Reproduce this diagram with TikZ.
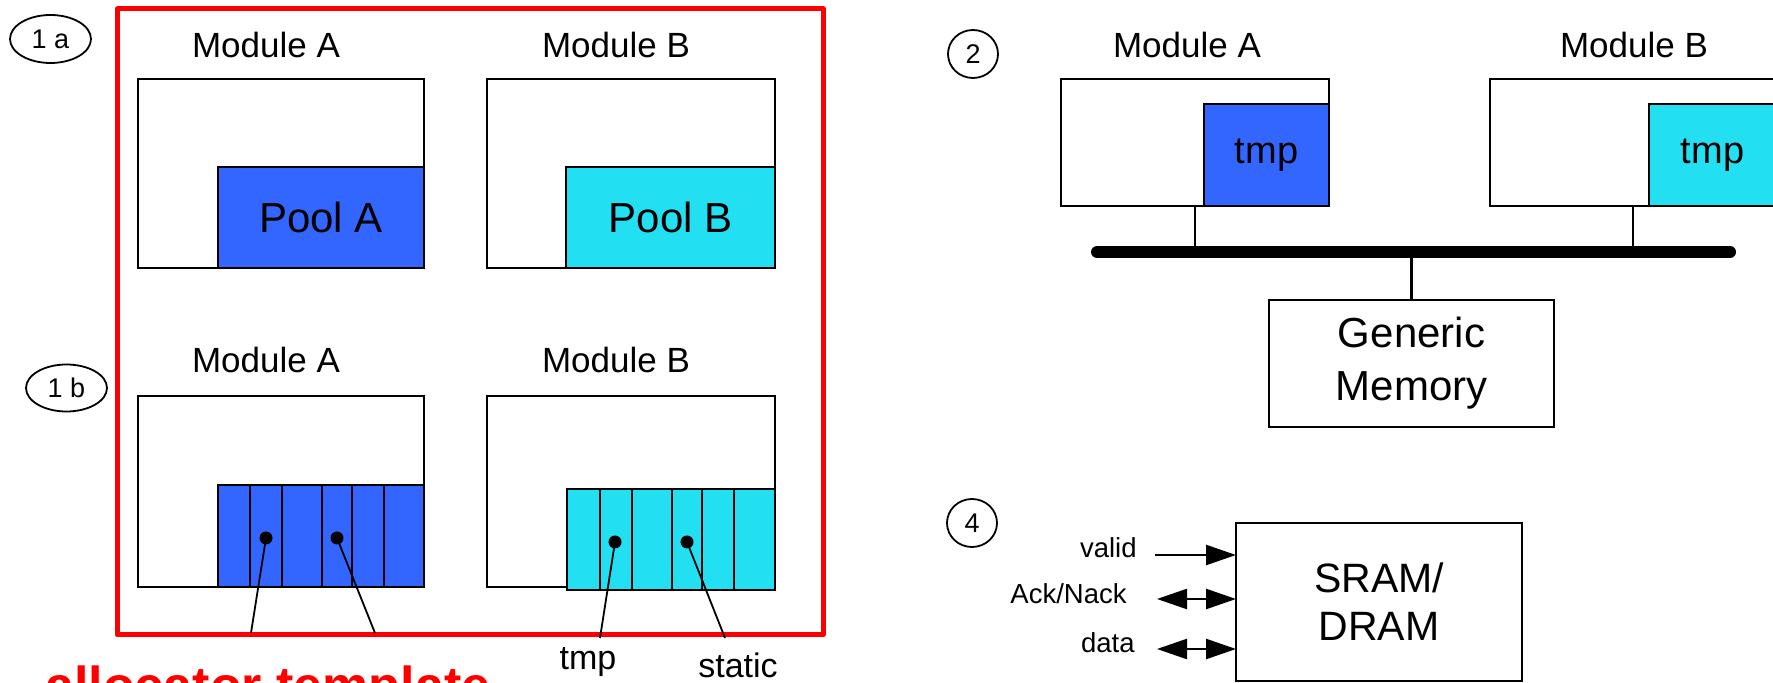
\documentclass[tikz,border=0pt]{standalone}
\usepackage{fontspec}
\setmainfont{Liberation Sans}
\usetikzlibrary{arrows.meta,shapes.geometric}
\definecolor{poolblue}{RGB}{51,102,255}
\definecolor{poolcyan}{RGB}{34,223,242}
\definecolor{framered}{RGB}{255,0,0}

\begin{document}
\begin{tikzpicture}[x=0.5pt,y=-0.5pt,
  box/.style={draw,line width=1.25pt,inner sep=0pt,outer sep=0pt,fill=white},
  bluepool/.style={box,fill=poolblue},
  cyanpool/.style={box,fill=poolcyan},
  divider/.style={line width=1pt},
  tag/.style={draw,ellipse,line width=0.9pt,inner sep=0pt,font=\fontsize{13.5}{15}\selectfont},
  modlabel/.style={font=\fontsize{17.5}{20}\selectfont,inner sep=0pt},
  poollabel/.style={font=\fontsize{21}{25}\selectfont},
  tmplabel/.style={font=\fontsize{19}{22}\selectfont},
  smalllabel/.style={font=\fontsize{13.75}{16}\selectfont,inner sep=0pt,anchor=east},
  dot/.style={circle,fill=black,inner sep=0pt,minimum size=6.5pt},
  pointer/.style={line width=0.9pt},
  bus/.style={line width=6pt,line cap=round},
  stub/.style={line width=1.4pt},
  sig/.style={line width=1.2pt},
  tip/.tip={Triangle[length=15pt,width=10pt]}
]
\useasboundingbox (0,0) rectangle (1773,683);

% ---------- allocator frame (cases 1a and 1b) ----------
\node[draw=framered,line width=2.5pt,line join=round,inner sep=0pt,
      minimum width=352.75pt,minimum height=313pt] (frame) at (470.25,322) {};

\node[tag,minimum width=40.5pt,minimum height=24pt] (t1a) at (50.5,39) {1 a};
\node[tag,minimum width=40.5pt,minimum height=23.5pt] (t1b) at (66.5,388) {1 b};

% case 1a: one pool per module
\node[modlabel] (ma1) at (266,45) {Module A};
\node[modlabel] (mb1) at (616,45) {Module B};
\node[box,minimum width=143pt,minimum height=94.5pt] (a1) at (281,173.5) {};
\node[bluepool,minimum width=103pt,minimum height=50.5pt,poollabel] (pa1) at (321,217.5) {Pool A};
\node[box,minimum width=144pt,minimum height=94.5pt] (b1) at (631,173.5) {};
\node[cyanpool,minimum width=104.5pt,minimum height=50.5pt,poollabel] (pb1) at (670.5,217.5) {Pool B};

% case 1b: pools split into slots
\node[modlabel] (ma2) at (266,360) {Module A};
\node[modlabel] (mb2) at (616,360) {Module B};
\node[box,minimum width=143pt,minimum height=95.5pt] (a2) at (281,491.5) {};
\node[bluepool,minimum width=103pt,minimum height=51pt] (pa2) at (321,536) {};
\foreach \x in {250,282,322,352,384} \draw[divider] (\x,485) -- (\x,587);
\node[box,minimum width=144pt,minimum height=95.5pt] (b2) at (631,491.5) {};
\node[cyanpool,minimum width=104pt,minimum height=50.5pt] (pb2) at (671,539.5) {};
\foreach \x in {600,632,672,702,734} \draw[divider] (\x,489) -- (\x,590);

\node[dot] (da1) at (266,538) {};
\node[dot] (da2) at (337,538) {};
\node[dot] (db1) at (615,542) {};
\node[dot] (db2) at (687,542) {};
\coordinate (ea1) at (251,633);
\coordinate (ea2) at (375,633);
\coordinate (eb1) at (600,638);
\coordinate (eb2) at (725,638);
\draw[pointer] (da1.center) -- (ea1);
\draw[pointer] (da2.center) -- (ea2);
\draw[pointer] (db1.center) -- (eb1);
\draw[pointer] (db2.center) -- (eb2);
\node[font=\fontsize{17}{20}\selectfont] (ltmp) at (588,662) {tmp};
\node[font=\fontsize{17}{20}\selectfont] (lstatic) at (738,665) {static};

\node[anchor=base west,inner sep=0pt,text=framered,
      font=\bfseries\fontsize{26}{31}\selectfont] (alloc) at (45,704) {allocator template};

% ---------- case 2: shared generic memory on a bus ----------
\node[tag,minimum width=25pt,minimum height=24pt] (t2) at (973,54) {2};
\node[modlabel] (ma3) at (1187,45) {Module A};
\node[modlabel] (mb3) at (1634,45) {Module B};
\node[box,minimum width=134pt,minimum height=63.5pt] (ra) at (1195,142.5) {};
\node[bluepool,minimum width=62.5pt,minimum height=51pt,tmplabel] (ta) at (1266.5,155) {tmp};
\node[box,minimum width=143pt,minimum height=63.5pt] (rb) at (1633,142.5) {};
\node[cyanpool,minimum width=63.5pt,minimum height=51pt,tmplabel] (tb) at (1712.5,155) {tmp};

\coordinate (busL) at (1097,252);
\coordinate (busR) at (1730,252);
\draw[bus] (busL) -- (busR);
\draw[stub] (ra.south) -- (ra.south |- busL);
\draw[stub] (rb.south) -- (rb.south |- busL);

\node[box,minimum width=142.5pt,minimum height=63.5pt,align=center,
      font=\fontsize{21}{26.5}\selectfont] (mem) at (1411.5,363.5) {Generic\\Memory};
\draw[stub] (mem.north) -- (mem.north |- busL);

% ---------- case 4: memory interface ----------
\node[tag,minimum width=25pt,minimum height=24pt] (t4) at (972,523) {4};
\node[box,minimum width=143pt,minimum height=79pt,align=center,
      font=\fontsize{20.5}{24}\selectfont] (sram) at (1379,602) {SRAM/\\DRAM};

\coordinate (vs) at (1155,555);
\coordinate (as) at (1157,599);
\coordinate (ds) at (1157,649);
\draw[sig,-tip] (vs) -- (vs -| sram.west);
\draw[sig,tip-tip] (as) -- (as -| sram.west);
\draw[sig,tip-tip] (ds) -- (ds -| sram.west);
\node[smalllabel] (lvalid) at (1137,548) {valid};
\node[smalllabel] (lack) at (1127,594) {Ack/Nack};
\node[smalllabel] (ldata) at (1135,643) {data};
\end{tikzpicture}
\end{document}
